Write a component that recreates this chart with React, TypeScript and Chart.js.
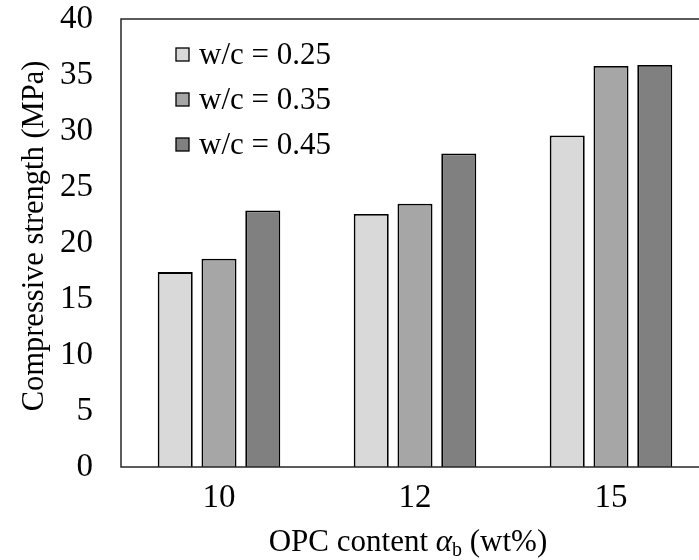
import React, { useEffect, useRef } from "react";
import { Chart, registerables } from "chart.js";

Chart.register(...registerables);

// ---- data ----
const categories = ["10", "12", "15"];
const seriesLabels = ["w/c = 0.25", "w/c = 0.35", "w/c = 0.45"];
const wc025 = [17.4, 22.6, 29.6];
const wc035 = [18.6, 23.5, 35.8];
const wc045 = [22.9, 28.0, 35.9];
const yMin = 0;
const yMax = 40;
const yStep = 5;
const yTitle = "Compressive strength (MPa)";
const xTitleParts = ["OPC content ", "α", "b", " (wt%)"];

const seriesColors = ["#d9d9d9", "#a6a6a6", "#808080"];
const FONT = '"Liberation Serif", "Times New Roman", Times, serif';

const CANVAS_W = 730;
const CANVAS_H = 560;

const decorPlugin = {
  id: "decor",
  afterDraw(chart: any) {
    const { ctx, chartArea: a } = chart;
    ctx.save();
    // plot frame
    ctx.strokeStyle = "#262626";
    ctx.lineWidth = 1.5;
    ctx.strokeRect(a.left, a.top, a.right - a.left, a.bottom - a.top);

    // legend inside plot
    ctx.font = `31px ${FONT}`;
    ctx.textBaseline = "middle";
    ctx.textAlign = "left";
    chart.data.datasets.forEach((ds: any, i: number) => {
      const cy = 55 + i * 45;
      ctx.fillStyle = ds.backgroundColor;
      ctx.fillRect(176, cy - 7, 13, 13);
      ctx.strokeStyle = "#000";
      ctx.lineWidth = 1.3;
      ctx.strokeRect(176, cy - 7, 13, 13);
      ctx.fillStyle = "#000";
      ctx.fillText(ds.label, 199, cy + 1);
    });

    // y title
    ctx.save();
    ctx.translate(35, 236);
    ctx.rotate(-Math.PI / 2);
    ctx.font = `30.5px ${FONT}`;
    ctx.textAlign = "center";
    ctx.textBaseline = "middle";
    ctx.fillStyle = "#000";
    ctx.fillText(yTitle, 0, 0);
    ctx.restore();

    // x title with italic alpha and subscript b
    const fNormal = `31px ${FONT}`;
    const fItalic = `italic 31px ${FONT}`;
    const fSub = `20px ${FONT}`;
    const fonts = [fNormal, fItalic, fSub, fNormal];
    const widths = xTitleParts.map((t, i) => {
      ctx.font = fonts[i];
      return ctx.measureText(t).width;
    });
    const total = widths.reduce((s, w) => s + w, 0);
    let x = 408 - total / 2;
    const base = 551;
    ctx.textAlign = "left";
    ctx.textBaseline = "alphabetic";
    ctx.fillStyle = "#000";
    xTitleParts.forEach((t, i) => {
      ctx.font = fonts[i];
      ctx.fillText(t, x, i === 2 ? base + 5 : base);
      x += widths[i];
    });
    ctx.restore();
  },
};

export default function App() {
  const ref = useRef<HTMLCanvasElement | null>(null);

  useEffect(() => {
    const canvas = ref.current;
    if (!canvas) return;
    const values = [wc025, wc035, wc045];
    const chart = new Chart(canvas, {
      type: "bar",
      data: {
        labels: categories,
        datasets: seriesLabels.map((label, i) => ({
          label,
          data: values[i],
          backgroundColor: seriesColors[i],
          borderColor: "#000",
          borderWidth: 1.8,
          categoryPercentage: 0.67,
          barPercentage: 0.8,
        })),
      },
      options: {
        responsive: false,
        animation: false,
        devicePixelRatio: 1,
        layout: { padding: { top: 19, left: 0, right: CANVAS_W - 709, bottom: 0 } },
        plugins: {
          legend: { display: false },
          title: { display: false },
          tooltip: { enabled: false },
        },
        scales: {
          x: {
            grid: { display: false, drawTicks: false, tickLength: 0 },
            border: { display: false },
            ticks: {
              color: "#000",
              font: { family: FONT, size: 33 },
              padding: 12,
              maxRotation: 0,
            },
            afterFit: (s: any) => {
              s.height = 93;
              s.paddingLeft = 0;
              s.paddingRight = 0;
            },
          },
          y: {
            min: yMin,
            max: yMax,
            grid: { display: false, drawTicks: false, tickLength: 0 },
            border: { display: false },
            ticks: {
              stepSize: yStep,
              color: "#000",
              font: { family: FONT, size: 33 },
              padding: 28,
            },
            afterFit: (s: any) => {
              s.width = 121;
              s.paddingTop = 0;
              s.paddingBottom = 0;
            },
          },
        },
      },
      plugins: [decorPlugin],
    });
    return () => chart.destroy();
  }, []);

  return (
    <div
      style={{
        position: "fixed",
        left: 0,
        top: 0,
        width: 699,
        height: 560,
        overflow: "hidden",
        background: "#fff",
      }}
    >
      <canvas
        ref={ref}
        width={CANVAS_W}
        height={CANVAS_H}
        style={{ display: "block", width: CANVAS_W, height: CANVAS_H }}
      />
    </div>
  );
}
